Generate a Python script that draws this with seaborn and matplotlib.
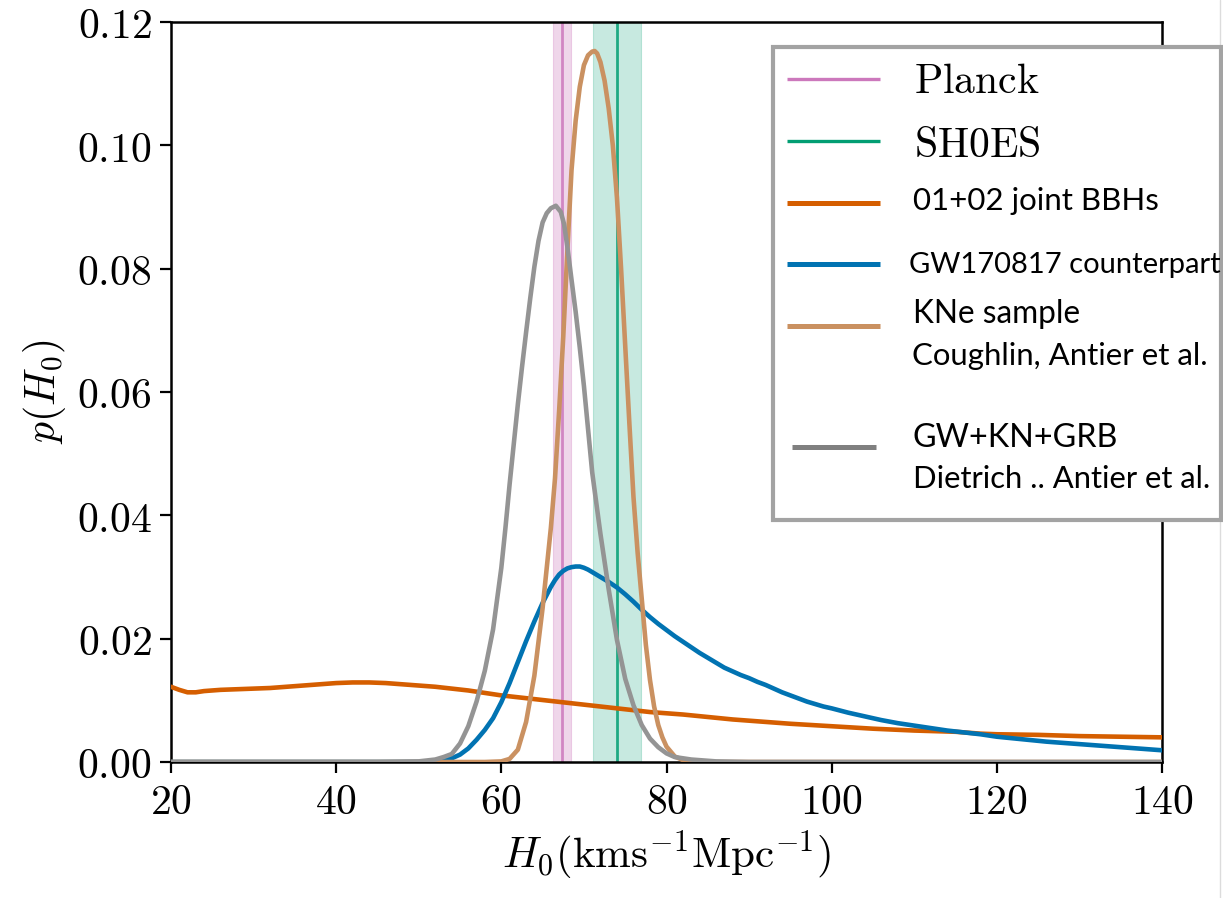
import numpy as np
import pandas as pd
import seaborn as sns
import matplotlib
matplotlib.use("Agg")
import matplotlib.pyplot as plt
from matplotlib.lines import Line2D
from matplotlib.patches import Rectangle
from matplotlib.ticker import FuncFormatter

# ---- posterior curves p(H0) ----
bbh_h0 = [20, 21, 22, 23, 24, 26, 28, 30, 32, 34, 36, 38, 40, 42, 44, 46, 48, 50,
          52, 54, 56, 58, 60, 62, 64, 66, 68, 70, 72, 74, 76, 78, 80, 82, 85, 88,
          91, 95, 100, 105, 110, 115, 118, 120, 125, 130, 135, 140]
bbh_p = [0.0122, 0.0117, 0.0113, 0.0113, 0.0115, 0.0117, 0.0118, 0.0119, 0.0120,
         0.0122, 0.0124, 0.0126, 0.0128, 0.0129, 0.0129, 0.0128, 0.0126, 0.0124,
         0.0122, 0.0119, 0.0116, 0.0112, 0.0108, 0.0105, 0.0102, 0.0099, 0.0096,
         0.0093, 0.0090, 0.0087, 0.0084, 0.0081, 0.0079, 0.0077, 0.0073, 0.0069,
         0.0066, 0.0062, 0.0058, 0.0054, 0.0051, 0.0049, 0.0046, 0.0045, 0.0044,
         0.0042, 0.0041, 0.0040]

gw_h0 = [20, 50, 53, 54, 55, 56, 57, 58, 59, 60, 61, 62, 63, 64, 65, 66, 66.5, 67,
         67.5, 68, 68.5, 69, 69.5, 70, 70.5, 71, 72, 73, 74, 75, 76, 77, 78, 79, 80,
         81, 82, 83, 84, 85, 86, 87, 88, 89, 90, 91, 92, 93, 94, 95, 96, 97, 98, 99,
         100, 102, 104, 106, 108, 110, 112, 114, 116, 118, 120, 123, 126, 130, 135,
         140]
gw_p = [0.0, 0.0, 0.0002, 0.0006, 0.0012, 0.0022, 0.0036, 0.0052, 0.0071, 0.0097,
        0.0128, 0.0162, 0.0196, 0.0228, 0.0258, 0.0284, 0.0295, 0.0304, 0.0310,
        0.0314, 0.0316, 0.0317, 0.0317, 0.0315, 0.0312, 0.0308, 0.0300, 0.0292,
        0.0283, 0.0272, 0.0260, 0.0247, 0.0235, 0.0224, 0.0214, 0.0204, 0.0195,
        0.0186, 0.0177, 0.0169, 0.0161, 0.0153, 0.0147, 0.0141, 0.0136, 0.0130,
        0.0125, 0.0119, 0.0113, 0.0108, 0.0103, 0.0098, 0.0094, 0.0090, 0.0087,
        0.0080, 0.0074, 0.0068, 0.0063, 0.0059, 0.0055, 0.0051, 0.0048, 0.0045,
        0.0041, 0.0037, 0.0033, 0.0029, 0.0024, 0.0019]

kne_h0 = [20, 58, 60, 61, 62, 63, 64, 65, 66, 66.5, 67, 67.5, 68, 68.5, 69, 69.5,
          70, 70.5, 71, 71.3, 71.6, 72, 72.5, 73, 73.5, 74, 74.5, 75, 75.5, 76, 76.5,
          77, 77.5, 78, 78.5, 79, 79.5, 80, 81, 82, 84, 140]
kne_p = [0.0, 0.0, 0.0001, 0.0005, 0.0020, 0.0065, 0.0140, 0.0250, 0.0380, 0.0460,
         0.0570, 0.0690, 0.0830, 0.0960, 0.1040, 0.1095, 0.1130, 0.1146, 0.1152,
         0.1153, 0.1149, 0.1135, 0.1105, 0.1060, 0.1000, 0.0915, 0.0800, 0.0675,
         0.0550, 0.0430, 0.0340, 0.0265, 0.0190, 0.0133, 0.0090, 0.0060, 0.0040,
         0.0025, 0.0009, 0.0003, 0.0, 0.0]

mm_h0 = [20, 45, 50, 52, 53, 54, 55, 56, 57, 58, 59, 60, 60.5, 61, 61.5, 62, 62.5,
         63, 63.5, 64, 64.5, 65, 65.5, 66, 66.6, 67.2, 67.6, 68, 68.5, 69, 69.5, 70,
         70.5, 71, 72, 73, 74, 75, 76, 77, 78, 79, 80, 81, 83, 86, 90, 140]
mm_p = [0.0, 0.0, 0.0001, 0.0004, 0.0008, 0.0013, 0.0030, 0.0058, 0.0098, 0.0148,
        0.0215, 0.0315, 0.0380, 0.0450, 0.0515, 0.0580, 0.0640, 0.0697, 0.0752,
        0.0803, 0.0845, 0.0875, 0.0890, 0.0898, 0.0902, 0.0892, 0.0872, 0.0835,
        0.0782, 0.0730, 0.0672, 0.0610, 0.0540, 0.0470, 0.0370, 0.0280, 0.0198,
        0.0135, 0.0092, 0.0060, 0.0038, 0.0024, 0.0014, 0.0008, 0.0004, 0.0001,
        0.0, 0.0]

# ---- electromagnetic measurements (central value, band edges) ----
planck_h0, planck_lo, planck_hi = 67.4, 66.3, 68.4
shoes_h0, shoes_lo, shoes_hi = 74.0, 71.1, 76.9

legend_labels = ["Planck", "SH0ES", "01+02 joint BBHs", "GW170817 counterpart",
                 "KNe sample", "Coughlin, Antier et al.",
                 "GW+KN+GRB", "Dietrich .. Antier et al."]

x_ticks = [20, 40, 60, 80, 100, 120, 140]
y_ticks = [0.00, 0.02, 0.04, 0.06, 0.08, 0.10, 0.12]

sns.set_style("ticks")
plt.rcParams["mathtext.fontset"] = "cm"
plt.rcParams["font.family"] = ["DejaVu Sans"]
plt.rcParams["text.color"] = "black"
plt.rcParams["axes.labelcolor"] = "black"
plt.rcParams["xtick.color"] = "black"
plt.rcParams["ytick.color"] = "black"

pal = sns.color_palette("colorblind")
c_blue, c_green, c_verm, c_pink, c_tan, c_gray = pal[0], pal[2], pal[3], pal[4], pal[5], pal[7]

W, H = 1223, 898
fig = plt.figure(figsize=(W / 100, H / 100), dpi=100)
ax = fig.add_axes([171 / W, 1 - 762 / H, (1162 - 171) / W, (762 - 22) / H])

# measurement bands and central values
ax.axvspan(planck_lo, planck_hi, color=c_pink, alpha=0.3, lw=0.8, zorder=1)
ax.axvline(planck_h0, color=c_pink, alpha=0.85, linewidth=2.0, zorder=2)
ax.axvspan(shoes_lo, shoes_hi, color=c_green, alpha=0.22, lw=0.8, zorder=1)
ax.axvline(shoes_h0, color=c_green, alpha=0.85, linewidth=2.0, zorder=2)

# gravitational-wave / kilonova posteriors
for xs, ys, col in [(bbh_h0, bbh_p, c_verm), (gw_h0, gw_p, c_blue),
                    (kne_h0, kne_p, c_tan), (mm_h0, mm_p, c_gray)]:
    sns.lineplot(x=xs, y=ys, color=col, ax=ax, zorder=3)
    ax.lines[-1].set_linewidth(3.3)
    ax.lines[-1].set_solid_joinstyle("round")
    ax.lines[-1].set_solid_capstyle("round")

ax.set_xlim(x_ticks[0], x_ticks[-1])
ax.set_ylim(y_ticks[0], y_ticks[-1])
ax.set_xticks(x_ticks)
ax.set_yticks(y_ticks)
ax.xaxis.set_major_formatter(FuncFormatter(lambda v, p: rf"${v:.0f}$"))
ax.yaxis.set_major_formatter(FuncFormatter(lambda v, p: rf"${v:.2f}$"))
ax.tick_params(axis="both", which="major", labelsize=30, length=8, width=1.6,
               direction="out", color="black", labelcolor="black", pad=6)
for s in ax.spines.values():
    s.set_linewidth(1.8)
    s.set_color("black")

ax.set_xlabel(r"$H_0(\mathrm{kms^{-1}Mpc^{-1}})$", fontsize=31, labelpad=4)
ax.set_ylabel(r"$p(H_0)$", fontsize=30, labelpad=6)

# ---- boxed key, drawn in figure pixels ----
def fx(px):
    return px / W

def fy(py):
    return 1 - py / H

box = Rectangle((fx(773), fy(520)), fx(1221) - fx(773), fy(47) - fy(520),
                transform=fig.transFigure, facecolor="white", edgecolor="#a3a3a3",
                lw=3.0, zorder=10)
fig.add_artist(box)

key_lines = [
    (79, c_pink, 2.4, 787, 880),
    (141, c_green, 2.4, 787, 880),
    (203, c_verm, 3.6, 787, 880),
    (264, c_blue, 3.6, 787, 880),
    (326, c_tan, 3.6, 787, 880),
    (447, "#808080", 3.6, 792, 876),
]
for py, col, lw, x0, x1 in key_lines:
    fig.add_artist(Line2D([fx(x0), fx(x1)], [fy(py), fy(py)], transform=fig.transFigure,
                          color=col, lw=lw, solid_capstyle="butt", zorder=11))

serif_keys = [(legend_labels[0], 914, 93), (legend_labels[1], 914, 157)]
for txt, px, py in serif_keys:
    fig.text(fx(px), fy(py), rf"$\mathrm{{{txt}}}$", fontsize=30, va="baseline",
             ha="left", zorder=12)

sans_keys = [
    (legend_labels[2], 913, 210, 22.5),
    (legend_labels[3], 909, 273, 21),
    (legend_labels[4], 913, 323, 22.8),
    (legend_labels[5], 912, 365, 22.4),
    (legend_labels[6], 912, 447, 23.2),
    (legend_labels[7], 913, 488, 22.3),
]
for txt, px, py, fs in sans_keys:
    fig.text(fx(px), fy(py), txt, fontsize=fs, family=["Lato", "DejaVu Sans"],
             va="baseline", ha="left", zorder=12)

# faint frame edge on the right of the canvas
fig.add_artist(Line2D([fx(1219.5), fx(1219.5)], [0, 1], transform=fig.transFigure,
                      color="#dcdcdc", lw=1.0, zorder=9))

fig.savefig("out.png", dpi=100, facecolor="white")
